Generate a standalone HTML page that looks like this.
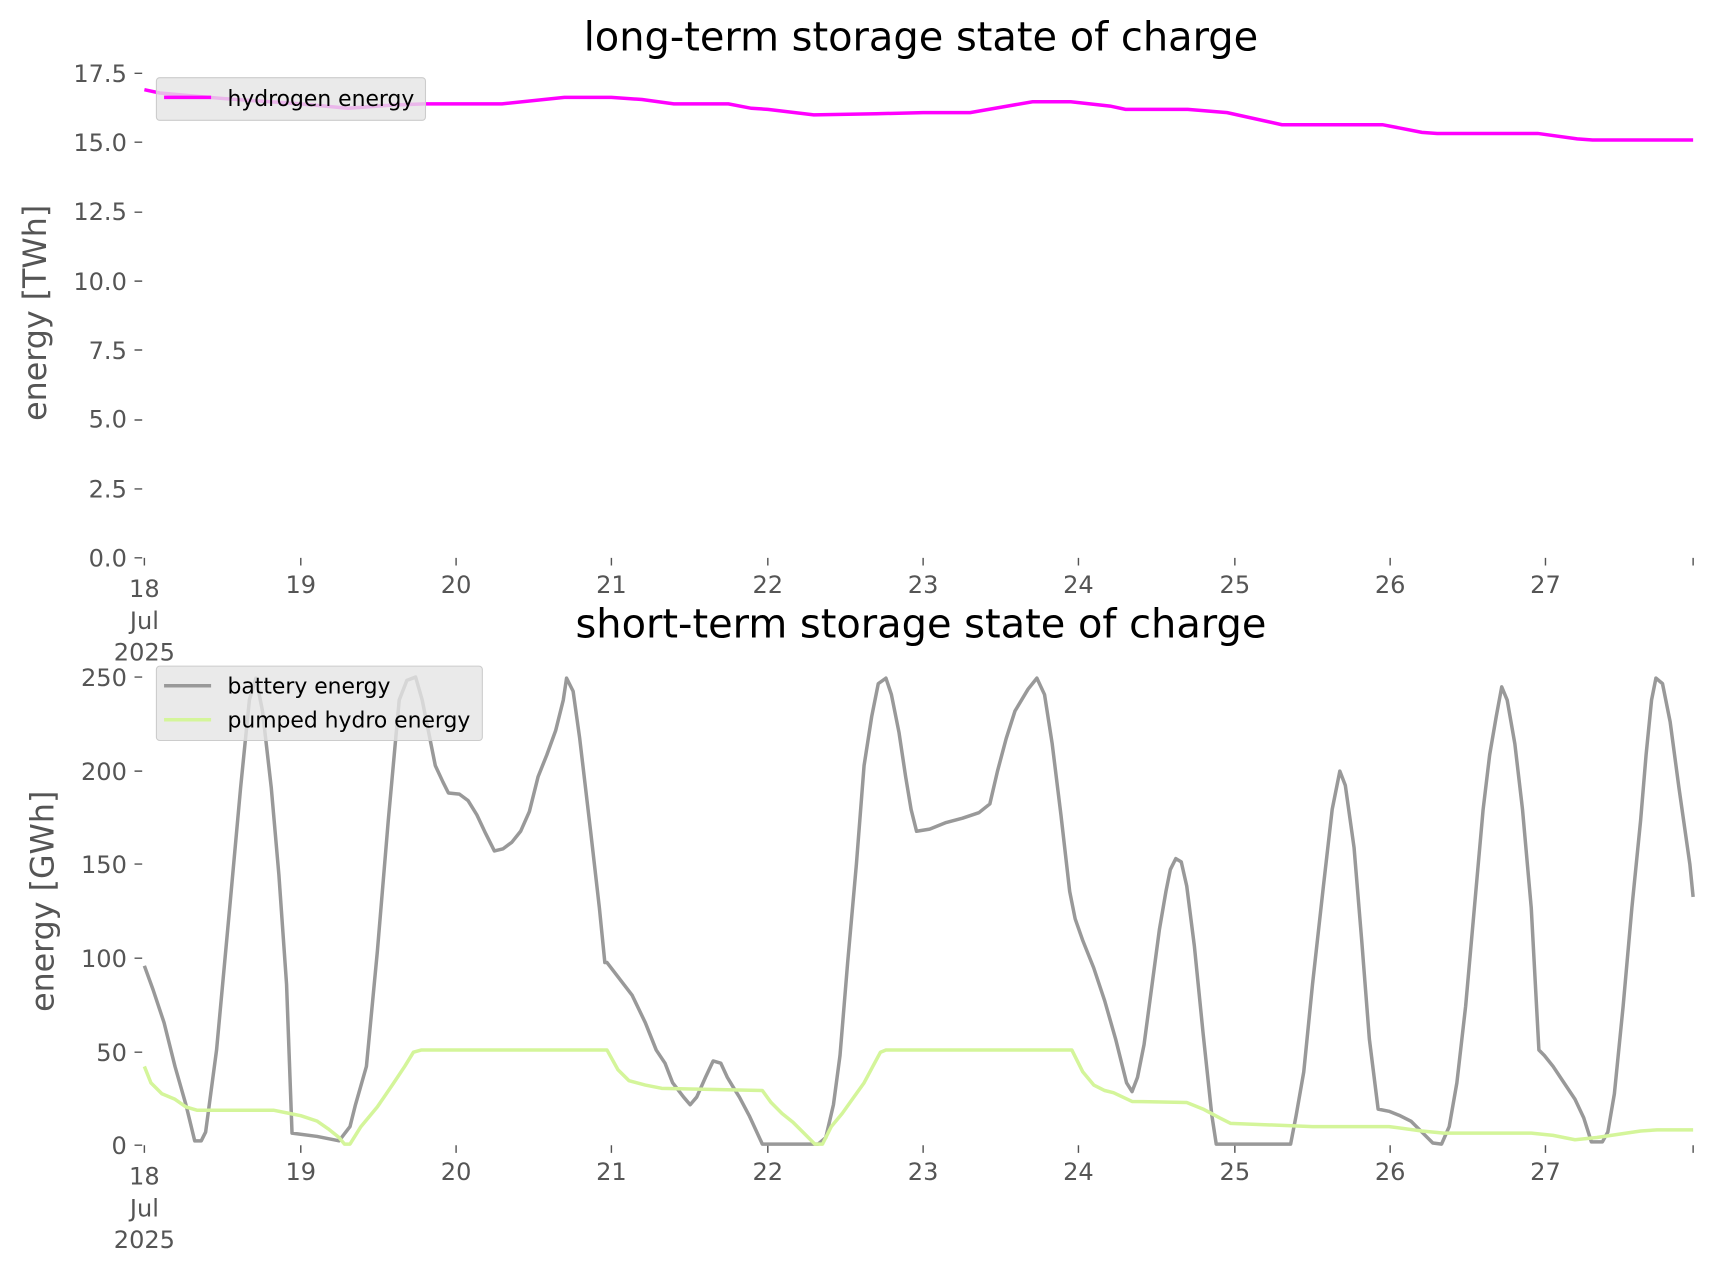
<!DOCTYPE html>
<html><head><style>html,body{margin:0;padding:0;background:#fff}svg{display:block}</style></head><body>
<svg width="1715" height="1277" viewBox="0 0 1568 1167.5" preserveAspectRatio="none" xmlns="http://www.w3.org/2000/svg" font-family="DejaVu Sans, Liberation Sans, sans-serif">
<rect width="1568" height="1168" fill="#fff"/>
<text x="842" y="46" font-size="36.5" text-anchor="middle" fill="#000">long-term storage state of charge</text>
<text x="842" y="583" font-size="36.5" text-anchor="middle" fill="#000">short-term storage state of charge</text>
<g fill="#555" font-size="22" text-anchor="end">
<text x="116" y="75">17.5</text><text x="116" y="138">15.0</text><text x="116" y="201">12.5</text><text x="116" y="265">10.0</text><text x="116" y="328">7.5</text><text x="116" y="391">5.0</text><text x="116" y="455">2.5</text><text x="116" y="518">0.0</text>
<text x="116" y="627">250</text><text x="116" y="713">200</text><text x="116" y="798">150</text><text x="116" y="884">100</text><text x="116" y="970">50</text><text x="116" y="1055">0</text>
</g>
<g stroke="#555" stroke-width="1.3">
<path d="M123 67h7M123 130h7M123 194h7M123 257h7M123 320h7M123 384h7M123 447h7M123 510h7"/>
<path d="M123 619h7M123 705h7M123 790h7M123 876h7M123 962h7M123 1047h7"/>
<path d="M132 510v7M275 510v7M417 510v7M559 510v7M702 510v7M844 510v7M986 510v7M1129 510v7M1271 510v7M1413 510v7M1548 510v7"/>
<path d="M132 1047v7M275 1047v7M417 1047v7M559 1047v7M702 1047v7M844 1047v7M986 1047v7M1129 1047v7M1271 1047v7M1413 1047v7M1548 1047v7"/>
</g>
<g fill="#555" font-size="22" text-anchor="middle">
<text x="132" y="546">18</text><text x="132" y="575">Jul</text><text x="132" y="604">2025</text>
<text x="275" y="542">19</text><text x="417" y="542">20</text><text x="559" y="542">21</text><text x="702" y="542">22</text><text x="844" y="542">23</text><text x="986" y="542">24</text><text x="1129" y="542">25</text><text x="1271" y="542">26</text><text x="1413" y="542">27</text>
<text x="132" y="1083">18</text><text x="132" y="1112">Jul</text><text x="132" y="1141">2025</text>
<text x="275" y="1079">19</text><text x="417" y="1079">20</text><text x="559" y="1079">21</text><text x="702" y="1079">22</text><text x="844" y="1079">23</text><text x="986" y="1079">24</text><text x="1129" y="1079">25</text><text x="1271" y="1079">26</text><text x="1413" y="1079">27</text>
</g>
<text transform="translate(42,286) rotate(-90)" font-size="29" fill="#555" text-anchor="middle">energy [TWh]</text>
<text transform="translate(49,824) rotate(-90)" font-size="29" fill="#555" text-anchor="middle">energy [GWh]</text>
<polyline fill="none" stroke="#ff00ff" stroke-width="3.2" points="132,82 146,85 203,90 275,95 318,99 360,96 388,95 459,95 516,89 559,89 587,91 616,95 666,95 687,99 702,100 744,105 801,104 844,103 887,103 944,93 979,93 1015,97 1029,100 1086,100 1122,103 1172,114 1264,114 1300,121 1314,122 1406,122 1442,127 1456,128 1548,128"/>
<polyline fill="none" stroke="#999" stroke-width="3.2" stroke-linejoin="round" points="132,883 140,905 150,935 160,975 170,1010 178,1043 184,1043 188,1035 198,960 210,830 220,720 228,640 234,620 240,650 248,720 255,800 262,900 267,1036 290,1039 310,1043 320,1030 325,1010 335,975 345,870 355,750 365,640 372,622 380,619 386,640 398,700 405,715 410,725 420,726 428,732 436,745 444,762 452,778 460,776 468,770 476,760 484,742 492,710 500,690 508,668 515,640 518,620 524,632 530,675 540,760 548,830 553,880 555,880 565,893 578,910 590,935 600,960 608,972 615,990 625,1003 631,1010 637,1003 645,985 652,970 659,972 665,985 671,995 676,1003 685,1020 697,1046 748,1046 755,1040 762,1010 768,965 775,880 783,790 790,700 797,655 803,625 810,620 815,635 822,670 828,710 833,740 838,760 850,758 865,752 880,748 895,743 905,735 912,705 920,675 928,650 940,630 948,620 955,635 962,680 970,745 978,815 983,840 990,860 1000,885 1010,915 1020,950 1030,990 1035,998 1040,985 1046,955 1052,910 1060,850 1066,815 1070,795 1075,785 1080,788 1085,810 1092,865 1100,945 1108,1020 1112,1046 1180,1046 1185,1020 1192,980 1200,900 1210,810 1218,740 1225,705 1230,718 1238,775 1245,860 1252,950 1260,1014 1270,1016 1280,1020 1290,1025 1300,1035 1310,1045 1318,1046 1325,1030 1332,990 1340,920 1348,830 1356,740 1362,690 1368,655 1373,628 1378,640 1385,680 1392,740 1400,830 1407,960 1412,965 1420,975 1430,990 1440,1005 1448,1022 1455,1044 1465,1044 1470,1035 1476,1000 1484,920 1492,830 1500,750 1505,690 1510,640 1514,620 1520,625 1527,660 1535,720 1545,790 1548,820"/>
<polyline fill="none" stroke="#d4f59a" stroke-width="3.2" stroke-linejoin="round" points="132,975 138,990 148,1000 160,1005 170,1012 180,1015 250,1015 265,1018 275,1020 290,1025 300,1032 310,1040 315,1046 320,1046 330,1030 345,1012 360,990 370,975 378,962 385,960 555,960 565,978 575,988 590,992 605,995 697,997 705,1008 715,1018 725,1026 735,1036 745,1046 752,1046 760,1030 770,1018 780,1004 790,990 798,975 805,962 810,960 980,960 990,980 1000,992 1010,997 1018,999 1035,1007 1085,1008 1100,1014 1115,1022 1125,1027 1200,1030 1270,1030 1300,1034 1320,1036 1400,1036 1420,1038 1440,1042 1460,1040 1480,1037 1500,1034 1515,1033 1548,1033"/>
<rect x="143" y="71" width="246" height="39" rx="3" fill="#e5e5e5" fill-opacity="0.8" stroke="#ccc" stroke-width="1"/>
<line x1="150" y1="89" x2="193" y2="89" stroke="#ff00ff" stroke-width="3.2"/>
<text x="208" y="97" font-size="20" fill="#000">hydrogen energy</text>
<rect x="143" y="609" width="298" height="68" rx="3" fill="#e5e5e5" fill-opacity="0.8" stroke="#ccc" stroke-width="1"/>
<line x1="150" y1="627" x2="193" y2="627" stroke="#999" stroke-width="3.2"/>
<text x="208" y="634" font-size="20" fill="#000">battery energy</text>
<line x1="150" y1="658" x2="193" y2="658" stroke="#d4f59a" stroke-width="3.2"/>
<text x="208" y="665" font-size="20" fill="#000">pumped hydro energy</text>
</svg>
</body></html>
